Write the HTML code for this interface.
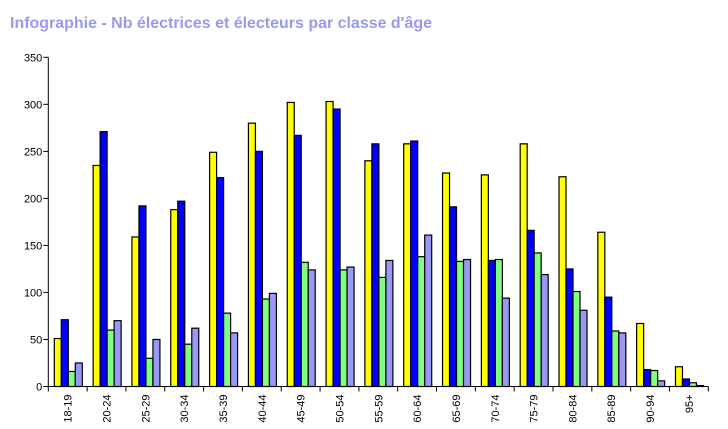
<!DOCTYPE html>
<html><head><meta charset="utf-8"><style>
body{margin:0;background:#fff}
svg{display:block;font-family:"Liberation Sans",sans-serif}
</style></head><body>
<svg id="chart" width="728" height="429">
<text x="10" y="28" fill="#9999f0" font-size="16" font-weight="bold" textLength="422" lengthAdjust="spacingAndGlyphs">Infographie - Nb électrices et électeurs par classe d'âge</text>
<g id="axes"></g>
<g id="bars"></g>
</svg>
<script>
const categories=["18-19","20-24","25-29","30-34","35-39","40-44","45-49","50-54","55-59","60-64","65-69","70-74","75-79","80-84","85-89","90-94","95+"];
const seriesA=[51,235,159,188,249,280,302,303,240,258,227,225,258,223,164,67,21];
const seriesB=[71,271,192,197,222,250,267,295,258,261,191,134,166,125,95,18,8];
const seriesC=[16,60,30,45,78,93,132,124,116,138,133,135,142,101,59,17,4];
const seriesD=[25,70,50,62,57,99,124,127,134,161,135,94,119,81,57,6,1];
const yTicks=[0,50,100,150,200,250,300,350];
const seriesList=[seriesA,seriesB,seriesC,seriesD];
const colors=["#ffff00","#0000ff","#80ff80","#9999f5"];
const NS="http://www.w3.org/2000/svg";
const x0=48.3,x1=708.3,y0=386.5,yTop=57.3,yMax=350;
const bw=(x1-x0)/categories.length;
function y(v){return y0-(v/yMax)*(y0-yTop);}
function xCat(i){return x0+i*bw;}
function mk(tag,attrs,parent){const e=document.createElementNS(NS,tag);for(const k in attrs)e.setAttribute(k,attrs[k]);parent.appendChild(e);return e;}
const ax=document.getElementById('axes');
let l=mk('line',{x1:x0,y1:yTop,x2:x0,y2:y0,stroke:'#000'},ax);


l=mk('line',{x1:x0,y1:y0,x2:x1,y2:y0,stroke:'#000'},ax);


yTicks.forEach(t=>{
  const tk=mk('line',{x1:x0-5,y1:y(t),x2:x0,y2:y(t),stroke:'#000'},ax);
  
  
  const tx=mk('text',{x:x0-6,y:y(t)+4,'text-anchor':'end','font-size':'11',fill:'#000'},ax);
  tx.textContent=t;
  
  
});
for(let i=0;i<=categories.length;i++){
  const tk=mk('line',{x1:xCat(i),y1:y0,x2:xCat(i),y2:y0+5,stroke:'#000'},ax);
  
  
}
categories.forEach((c,i)=>{
  const cx=xCat(i)+bw/2;
  const tx=mk('text',{x:0,y:0,'text-anchor':'end','font-size':'11',fill:'#000',transform:`translate(${cx+4},${y0+8}) rotate(-90)`},ax);
  tx.textContent=c;
  
  
});
const bars=document.getElementById('bars');
categories.forEach((c,i)=>{
  seriesList.forEach((s,j)=>{
    const bx=xCat(i)+6+j*7;
    const top=y(s[i]);
    const r=mk('rect',{x:bx,y:top,width:7,height:Math.max(0,y0-top),fill:colors[j],stroke:'#000','stroke-width':1.2},bars);
    
    
  });
});
</script>
</body></html>
